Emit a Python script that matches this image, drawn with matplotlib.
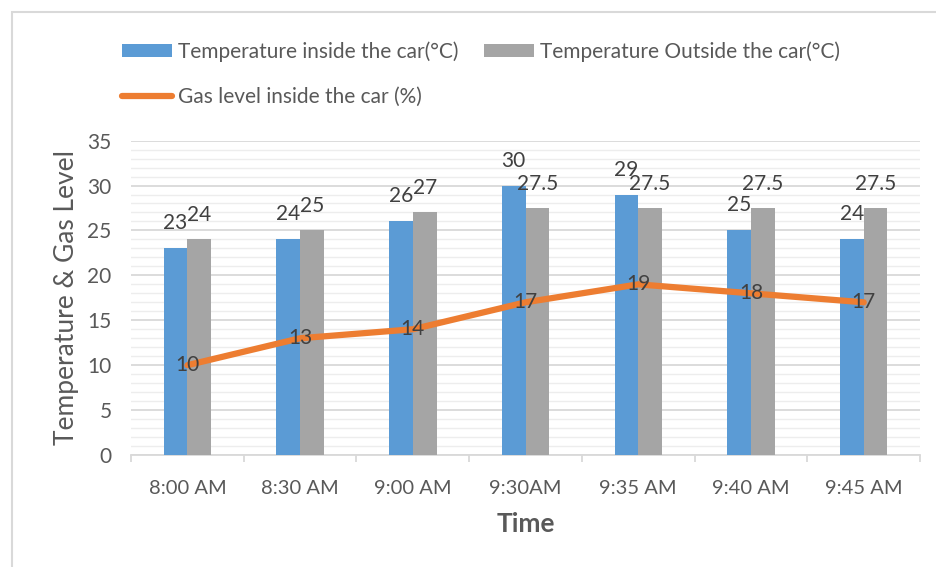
import numpy as np
import matplotlib.pyplot as plt
from matplotlib.patches import Rectangle

times = ["8:00 AM", "8:30 AM", "9:00 AM", "9:30AM", "9:35 AM", "9:40 AM", "9:45 AM"]
temp_inside = [23, 24, 26, 30, 29, 25, 24]
temp_outside = [24, 25, 27, 27.5, 27.5, 27.5, 27.5]
gas_level = [10, 13, 14, 17, 19, 18, 17]

blue = "#5B9BD5"
gray = "#A5A5A5"
orange = "#ED7D31"
txt = "#595959"

plt.rcParams["font.family"] = ["Lato", "DejaVu Sans"]

fig = plt.figure(figsize=(9.36, 5.67), dpi=100)
ax = fig.add_axes([0.140, 0.1975, 0.843, 0.5545])

x = np.arange(len(times))
w = 0.21

b1 = ax.bar(x - w / 2, temp_inside, w, color=blue, zorder=3,
            label="Temperature inside the car(°C)")
b2 = ax.bar(x + w / 2, temp_outside, w, color=gray, zorder=3,
            label="Temperature Outside the car(°C)")
ln, = ax.plot(x, gas_level, color=orange, linewidth=4.5, zorder=4,
              solid_capstyle="round", label="Gas level inside the car (%)")

for xi, v in zip(x, temp_inside):
    ax.annotate(f"{v:g}", (xi - w / 2, v), xytext=(0, 18), textcoords="offset points",
                ha="center", va="center", fontsize=15, color="#404040", zorder=5)
for xi, v in zip(x, temp_outside):
    ax.annotate(f"{v:g}", (xi + w / 2, v), xytext=(0, 17.5), textcoords="offset points",
                ha="center", va="center", fontsize=15, color="#404040", zorder=5)
for xi, v in zip(x, gas_level):
    ax.text(xi, v, f"{v:g}", ha="center", va="center", fontsize=15,
            color="#404040", zorder=5)

ax.set_xlim(-0.5, len(times) - 0.5)
ax.set_ylim(0, 35)
ax.set_yticks(np.arange(0, 36, 5))
ax.set_yticks(np.arange(0, 36, 1), minor=True)
ax.set_xticks(x)
ax.set_xticklabels(times)
ax.set_xticks(np.arange(-0.5, len(times), 1), minor=True)

ax.grid(True, axis="y", which="major", color="#D9D9D9", linewidth=1.3, zorder=0)
ax.grid(True, axis="y", which="minor", color="#EDEDED", linewidth=1.0, zorder=0)

for s in ["top", "right", "left"]:
    ax.spines[s].set_visible(False)
ax.spines["bottom"].set_color("#D9D9D9")
ax.spines["bottom"].set_linewidth(1.3)

ax.tick_params(axis="y", which="both", length=0, labelsize=15, labelcolor=txt, pad=14)
ax.tick_params(axis="x", which="major", length=0, labelsize=14.5, labelcolor=txt, pad=18)
ax.tick_params(axis="x", which="minor", length=5, color="#D9D9D9", width=1.3)

ax.set_ylabel("Temperature & Gas Level", fontsize=19, color=txt, labelpad=6)
ax.set_xlabel("Time", fontsize=19, fontweight="bold", color=txt, labelpad=11)

fig.legend([b1, ln, b2],
           ["Temperature inside the car(°C)", "Gas level inside the car (%)",
            "Temperature Outside the car(°C)"],
           ncol=2, loc="upper left", bbox_to_anchor=(0.119, 0.946),
           frameon=False, fontsize=15, labelcolor=txt,
           handlelength=2.4, handleheight=0.6, handletextpad=0.3,
           labelspacing=1.2, columnspacing=1.2, borderpad=0)

fig.patches.append(Rectangle((12 / 936, -0.1), 1.2, 1.1 - 12 / 567,
                             transform=fig.transFigure, fill=False,
                             edgecolor="#D9D9D9", linewidth=1.5))

fig.savefig("out.png", dpi=100)
